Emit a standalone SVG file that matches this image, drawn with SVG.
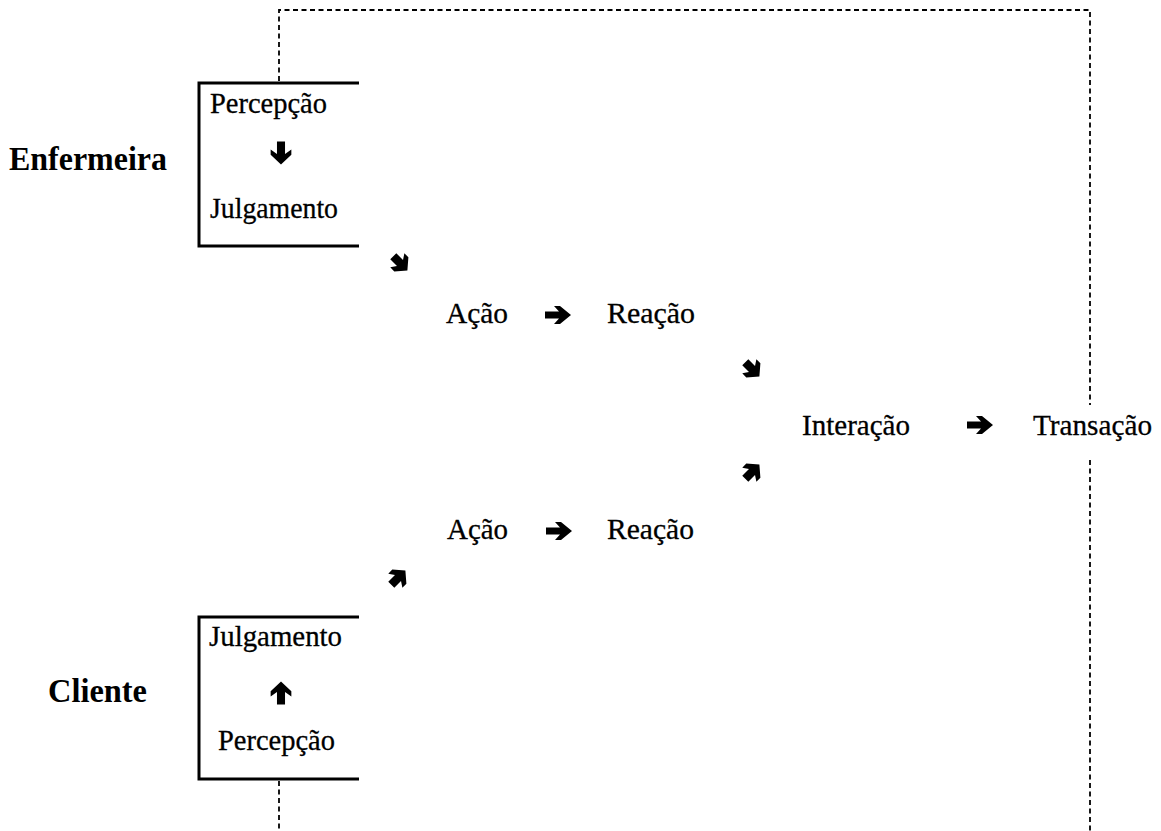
<svg xmlns="http://www.w3.org/2000/svg" xmlns:xlink="http://www.w3.org/1999/xlink" width="1161" height="831" viewBox="0 0 1161 831">
<style>
.t{font-family:"Liberation Serif","Times New Roman",serif;font-size:30px;fill:#000;stroke:#000;stroke-width:0.3}
.b{font-family:"Liberation Serif","Times New Roman",serif;font-size:33px;font-weight:bold;fill:#000}
.box{fill:none;stroke:#000;stroke-width:3}
.dash{fill:none;stroke:#000;stroke-width:1.8;stroke-dasharray:5 3.5}
.ar{fill:#000}
</style>
<defs>
<polygon id="arr" points="-13,-3.5 1,-3.5 -4,-9 2,-9 13,0 2,9 -4,9 1,3.5 -13,3.5"/>
<polygon id="darr" points="-10,-4.5 0,-4.5 -4,-10.5 2,-10.5 11,0 2,10.5 -4,10.5 0,4.5 -10,4.5"/>
</defs>
<rect width="1161" height="831" fill="#fff"/>

<g id="connectors">
<path class="dash" d="M279,81 V10 H1090 V405"/>
<path class="dash" d="M1090,460 V831"/>
<path class="dash" d="M279,781 V831"/>
<g class="ar">
<use xlink:href="#arr" transform="translate(281,153) rotate(90) scale(0.88,1.15)"/>
<use xlink:href="#arr" transform="translate(281,693) rotate(-90) scale(0.88,1.15)"/>
<use xlink:href="#darr" transform="translate(400,263) rotate(45) scale(0.95)"/>
<use xlink:href="#arr" transform="translate(558,315)"/>
<use xlink:href="#darr" transform="translate(752,369) rotate(45) scale(0.95)"/>
<use xlink:href="#arr" transform="translate(980,425)"/>
<use xlink:href="#darr" transform="translate(752,472) rotate(-45) scale(0.95)"/>
<use xlink:href="#arr" transform="translate(559,531)"/>
<use xlink:href="#darr" transform="translate(398,578) rotate(-45) scale(0.95)"/>
</g>
</g>

<g id="enfermeira">
<text class="b" x="9" y="170" textLength="158" lengthAdjust="spacingAndGlyphs">Enfermeira</text>
</g>
<g id="enfermeira-box">
<path class="box" d="M359,83 H199 V246 H359"/>
<text class="t" x="210" y="113" textLength="117" lengthAdjust="spacingAndGlyphs">Percepção</text>
<text class="t" x="210" y="218" textLength="128" lengthAdjust="spacingAndGlyphs">Julgamento</text>
</g>
<g id="acao1"><text class="t" x="446" y="323" textLength="62" lengthAdjust="spacingAndGlyphs">Ação</text></g>
<g id="reacao1"><text class="t" x="607" y="323" textLength="88" lengthAdjust="spacingAndGlyphs">Reação</text></g>
<g id="interacao"><text class="t" x="802" y="435" textLength="108" lengthAdjust="spacingAndGlyphs">Interação</text></g>
<g id="transacao"><text class="t" x="1033" y="435" textLength="119" lengthAdjust="spacingAndGlyphs">Transação</text></g>
<g id="acao2"><text class="t" x="447" y="539" textLength="61" lengthAdjust="spacingAndGlyphs">Ação</text></g>
<g id="reacao2"><text class="t" x="607" y="539" textLength="87" lengthAdjust="spacingAndGlyphs">Reação</text></g>
<g id="cliente">
<text class="b" x="48" y="702" textLength="99" lengthAdjust="spacingAndGlyphs">Cliente</text>
</g>
<g id="cliente-box">
<path class="box" d="M359,617 H199 V779 H359"/>
<text class="t" x="209" y="646" textLength="133" lengthAdjust="spacingAndGlyphs">Julgamento</text>
<text class="t" x="218" y="750" textLength="117" lengthAdjust="spacingAndGlyphs">Percepção</text>
</g>
</svg>
